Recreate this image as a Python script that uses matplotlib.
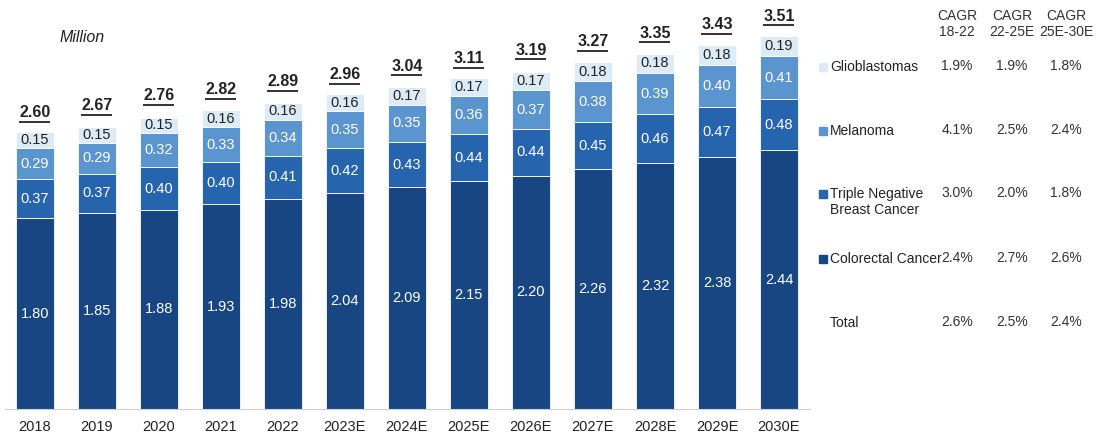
import numpy as np
import matplotlib.pyplot as plt
from matplotlib.patches import Rectangle

years = ['2018', '2019', '2020', '2021', '2022', '2023E', '2024E', '2025E',
         '2026E', '2027E', '2028E', '2029E', '2030E']
colorectal = [1.80, 1.85, 1.88, 1.93, 1.98, 2.04, 2.09, 2.15, 2.20, 2.26, 2.32, 2.38, 2.44]
tnbc = [0.37, 0.37, 0.40, 0.40, 0.41, 0.42, 0.43, 0.44, 0.44, 0.45, 0.46, 0.47, 0.48]
melanoma = [0.29, 0.29, 0.32, 0.33, 0.34, 0.35, 0.35, 0.36, 0.37, 0.38, 0.39, 0.40, 0.41]
glio = [0.15, 0.15, 0.15, 0.16, 0.16, 0.16, 0.17, 0.17, 0.17, 0.18, 0.18, 0.18, 0.19]
totals = [2.60, 2.67, 2.76, 2.82, 2.89, 2.96, 3.04, 3.11, 3.19, 3.27, 3.35, 3.43, 3.51]

colors = ['#174682', '#2764AE', '#5B95D0', '#DDEBF7']
label_colors = ['white', 'white', 'white', '#222222']

cagr_headers = ['CAGR\n18-22', 'CAGR\n22-25E', 'CAGR\n25E-30E']
row_names = ['Glioblastomas', 'Melanoma', 'Triple Negative\nBreast Cancer', 'Colorectal Cancer', 'Total']
cagr_values = [
    ['1.9%', '1.9%', '1.8%'],
    ['4.1%', '2.5%', '2.4%'],
    ['3.0%', '2.0%', '1.8%'],
    ['2.4%', '2.7%', '2.6%'],
    ['2.6%', '2.5%', '2.4%'],
]

plt.rcParams['font.family'] = ['Liberation Sans', 'DejaVu Sans']

fig = plt.figure(figsize=(10.96, 4.4), dpi=100)
ax = fig.add_axes([5 / 1096, 31 / 440, 805 / 1096, 409 / 440])

x = np.arange(len(years))
width = 0.61
stack = [colorectal, tnbc, melanoma, glio]
bottom = np.zeros(len(years))
for vals, c, lc in zip(stack, colors, label_colors):
    vals = np.array(vals)
    ax.bar(x, vals, width, bottom=bottom, color=c, edgecolor='white', linewidth=0.6)
    for xi, b, v in zip(x, bottom, vals):
        ax.text(xi, b + v / 2, f'{v:.2f}', ha='center', va='center', color=lc, fontsize=10.5)
    bottom += vals

for xi, t in zip(x, totals):
    ax.text(xi, t + 0.125, f'{t:.2f}', ha='center', va='bottom', fontsize=11.5,
            fontweight='bold', color='#222222')
    ax.hlines(t + 0.108, xi - 0.25, xi + 0.25, color='#222222', linewidth=1.3)

ax.set_xlim(-0.48, 12.5)
ax.set_ylim(0, 409 / 106)
ax.set_xticks(x)
ax.set_xticklabels(years, fontsize=10.5, color='#222222')
ax.tick_params(axis='x', length=0, pad=8)
ax.set_yticks([])
for s in ['top', 'right', 'left']:
    ax.spines[s].set_visible(False)
ax.spines['bottom'].set_color('#D0D0D0')

fig.text(60 / 1096, 1 - 37 / 440, 'Million', fontsize=11.5, fontstyle='italic',
         va='center', color='#222222')

# right side legend + CAGR table
col_x = [957, 1012, 1066]
for cx, h in zip(col_x, cagr_headers):
    fig.text(cx / 1096, 1 - 24 / 440, h, ha='center', va='center', fontsize=10,
             color='#333333', linespacing=1.15)

row_y = [67, 131, 202, 259, 323]
legend_colors = [colors[3], colors[2], colors[1], colors[0], None]
for ry, name, lc, vals in zip(row_y, row_names, legend_colors, cagr_values):
    ty = 1 - ry / 440
    fig.text(830 / 1096, ty, name, ha='left', va='center', fontsize=10,
             color='#222222', linespacing=1.15)
    sq_y = ty if '\n' not in name else ty + 8 / 440
    if lc is not None:
        fig.patches.append(Rectangle((819 / 1096, sq_y - 4 / 440), 8 / 1096, 8 / 440,
                                     transform=fig.transFigure, color=lc))
    for cx, v in zip(col_x, vals):
        fig.text(cx / 1096, sq_y + 1 / 440, v, ha='center', va='center', fontsize=10,
                 color='#333333')

fig.savefig('out.png', dpi=100)
